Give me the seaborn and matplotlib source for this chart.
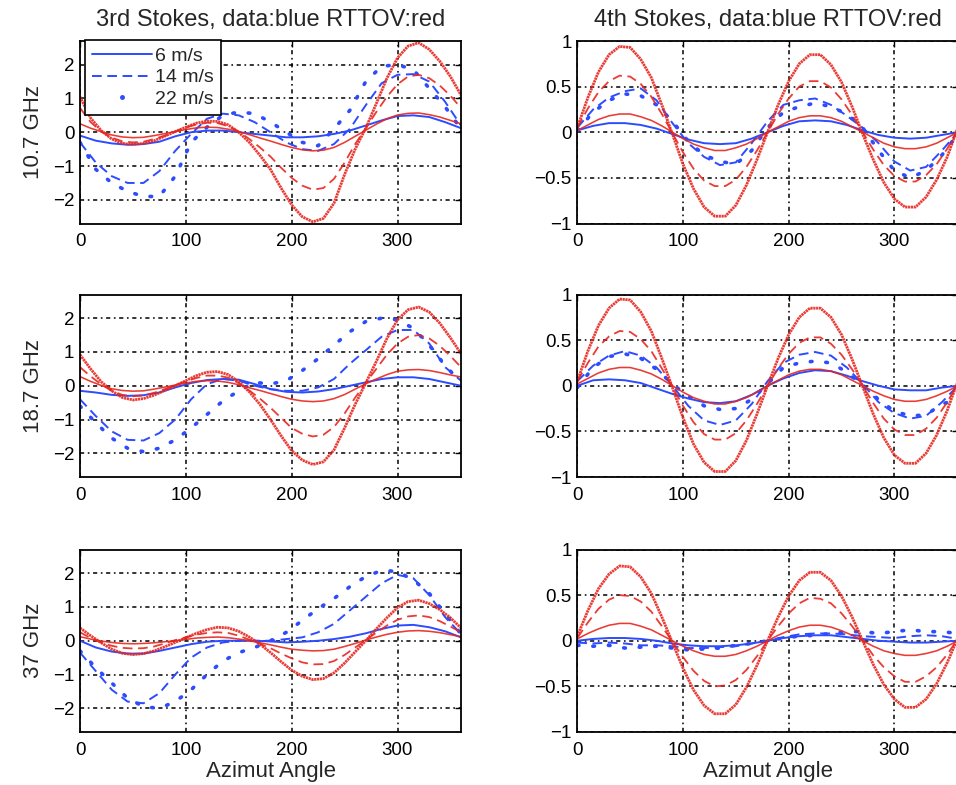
import matplotlib
matplotlib.use("Agg")
import matplotlib.pyplot as plt
import seaborn as sns
from matplotlib.lines import Line2D
from matplotlib.ticker import FuncFormatter

# ---------------- data ----------------
# measured data (blue) read every 15 degrees
angle = [0, 15, 30, 45, 60, 75, 90, 105, 120, 135, 150, 165, 180,
         195, 210, 225, 240, 255, 270, 285, 300, 315, 330, 345, 360]
# RTTOV model curves (red) read every 10 degrees
angle_model = [0, 10, 20, 30, 40, 50, 60, 70, 80, 90, 100, 110, 120, 130, 140, 150, 160, 170, 180,
               190, 200, 210, 220, 230, 240, 250, 260, 270, 280, 290, 300, 310, 320, 330, 340, 350, 360]

# 3rd Stokes, 10.7 GHz
s3_10_blue6 = [-0.1, -0.25, -0.33, -0.37, -0.35, -0.28, -0.12, 0.0, 0.05, 0.05, 0.0, -0.05, -0.1,
               -0.15, -0.15, -0.12, -0.05, 0.05, 0.2, 0.35, 0.48, 0.5, 0.45, 0.3, 0.12]
s3_10_blue14 = [-0.3, -0.9, -1.3, -1.5, -1.5, -1.15, -0.55, -0.05, 0.4, 0.55, 0.5, 0.3, 0.0,
                -0.3, -0.5, -0.55, -0.35, 0.1, 0.8, 1.45, 1.7, 1.72, 1.5, 0.9, 0.2]
s3_10_blue22 = [-0.3, -1.1, -1.5, -1.75, -1.9, -1.9, -1.3, -0.3, 0.15, 0.5, 0.6, 0.55, 0.3,
                0.0, -0.3, -0.4, 0.1, 0.65, 1.5, 1.95, 2.0, 1.85, 1.3, 0.75, 0.1]
s3_10_red6 = [0.25, 0.12, 0.02, -0.08, -0.14, -0.16, -0.15, -0.1, -0.04, 0.02, 0.08, 0.13, 0.15, 0.14,
              0.09, 0.02, -0.07, -0.17, -0.26, -0.36, -0.45, -0.52, -0.55, -0.53, -0.45, -0.3, -0.12,
              0.06, 0.24, 0.4, 0.51, 0.56, 0.57, 0.52, 0.45, 0.35, 0.25]
s3_10_red14 = [0.72, 0.3, 0.02, -0.16, -0.27, -0.3, -0.28, -0.2, -0.1, 0.02, 0.14, 0.23, 0.28, 0.27,
               0.18, 0.02, -0.2, -0.45, -0.72, -1.05, -1.35, -1.58, -1.7, -1.65, -1.38, -0.9, -0.35,
               0.12, 0.6, 1.05, 1.42, 1.65, 1.7, 1.6, 1.38, 1.08, 0.72]
s3_10_red22 = [1.05, 0.42, 0.05, -0.2, -0.33, -0.36, -0.33, -0.25, -0.12, 0.02, 0.15, 0.27, 0.33, 0.32,
               0.22, 0.0, -0.3, -0.68, -1.1, -1.65, -2.15, -2.5, -2.65, -2.55, -2.1, -1.25, -0.5,
               0.12, 0.85, 1.6, 2.2, 2.55, 2.65, 2.45, 2.1, 1.65, 1.1]

# 3rd Stokes, 18.7 GHz
s3_18_blue6 = [-0.15, -0.2, -0.27, -0.3, -0.28, -0.2, -0.05, 0.08, 0.17, 0.2, 0.18, 0.05, -0.1,
               -0.18, -0.2, -0.17, -0.1, 0.0, 0.1, 0.2, 0.25, 0.25, 0.2, 0.1, 0.0]
s3_18_blue14 = [-0.4, -0.9, -1.35, -1.6, -1.62, -1.4, -1.0, -0.4, 0.05, 0.2, 0.15, 0.0, -0.1,
                -0.15, -0.15, -0.05, 0.2, 0.65, 1.05, 1.45, 1.65, 1.65, 1.25, 0.55, 0.15]
s3_18_blue22 = [-0.6, -1.1, -1.55, -1.85, -1.95, -1.85, -1.6, -1.25, -0.85, -0.45, -0.15, 0.1, 0.05,
                0.15, 0.45, 0.8, 1.2, 1.6, 1.9, 2.0, 1.95, 1.7, 1.2, 0.6, 0.1]
s3_18_red6 = [0.27, 0.13, 0.01, -0.09, -0.14, -0.16, -0.15, -0.1, -0.04, 0.02, 0.08, 0.13, 0.15, 0.14,
              0.1, 0.03, -0.06, -0.14, -0.23, -0.32, -0.4, -0.45, -0.47, -0.45, -0.38, -0.26, -0.1,
              0.06, 0.2, 0.33, 0.43, 0.47, 0.48, 0.45, 0.39, 0.32, 0.26]
s3_18_red14 = [0.55, 0.28, 0.04, -0.15, -0.27, -0.31, -0.29, -0.21, -0.1, 0.02, 0.13, 0.23, 0.3, 0.3,
               0.24, 0.08, -0.14, -0.38, -0.65, -0.95, -1.25, -1.42, -1.5, -1.45, -1.22, -0.82, -0.35,
               0.08, 0.5, 0.92, 1.25, 1.45, 1.5, 1.4, 1.18, 0.88, 0.55]
s3_18_red22 = [0.92, 0.5, 0.12, -0.15, -0.35, -0.42, -0.38, -0.28, -0.14, 0.0, 0.15, 0.3, 0.4, 0.42,
               0.33, 0.12, -0.18, -0.55, -1.0, -1.48, -1.92, -2.2, -2.33, -2.25, -1.9, -1.25, -0.55,
               0.08, 0.72, 1.4, 1.95, 2.25, 2.33, 2.18, 1.85, 1.42, 0.95]

# 3rd Stokes, 37 GHz
s3_37_blue6 = [0.0, -0.2, -0.32, -0.38, -0.38, -0.3, -0.2, -0.1, -0.03, 0.0, 0.0, 0.0, -0.02,
               -0.05, -0.03, 0.0, 0.05, 0.12, 0.22, 0.35, 0.45, 0.47, 0.4, 0.28, 0.1]
s3_37_blue14 = [-0.35, -0.9, -1.45, -1.8, -1.85, -1.55, -1.0, -0.5, -0.2, -0.05, 0.0, 0.0, 0.0,
                0.05, 0.1, 0.25, 0.5, 0.9, 1.3, 1.7, 1.95, 1.85, 1.35, 0.7, 0.2]
s3_37_blue22 = [-0.3, -0.8, -1.25, -1.7, -1.95, -2.0, -1.8, -1.45, -1.0, -0.6, -0.35, -0.2, 0.0,
                0.25, 0.6, 0.95, 1.25, 1.6, 1.9, 2.08, 2.05, 1.8, 1.4, 0.8, 0.2]
s3_37_red6 = [0.12, 0.05, -0.01, -0.05, -0.08, -0.09, -0.08, -0.06, -0.03, 0.0, 0.04, 0.08, 0.1, 0.11,
              0.09, 0.05, 0.0, -0.06, -0.12, -0.19, -0.25, -0.28, -0.3, -0.29, -0.25, -0.17, -0.08,
              0.02, 0.11, 0.19, 0.25, 0.29, 0.3, 0.28, 0.24, 0.18, 0.12]
s3_37_red14 = [0.25, 0.08, -0.05, -0.15, -0.21, -0.23, -0.22, -0.17, -0.08, 0.02, 0.1, 0.18, 0.23, 0.25,
               0.23, 0.15, 0.03, -0.09, -0.22, -0.38, -0.52, -0.64, -0.7, -0.69, -0.6, -0.42, -0.2,
               0.02, 0.24, 0.45, 0.62, 0.72, 0.75, 0.7, 0.58, 0.42, 0.25]
s3_37_red22 = [0.38, 0.15, -0.06, -0.25, -0.37, -0.41, -0.38, -0.3, -0.18, -0.05, 0.09, 0.22, 0.33, 0.4,
               0.38, 0.28, 0.11, -0.1, -0.35, -0.62, -0.87, -1.05, -1.15, -1.12, -0.95, -0.66, -0.33,
               0.0, 0.35, 0.68, 0.98, 1.16, 1.2, 1.1, 0.92, 0.68, 0.38]

# 4th Stokes, 10.7 GHz
s4_10_blue6 = [0.02, 0.07, 0.1, 0.1, 0.08, 0.04, -0.02, -0.08, -0.12, -0.13, -0.12, -0.07, 0.0,
               0.07, 0.12, 0.13, 0.12, 0.08, 0.02, -0.03, -0.06, -0.07, -0.06, -0.03, 0.0]
s4_10_blue14 = [0.05, 0.25, 0.38, 0.45, 0.48, 0.35, 0.1, -0.12, -0.27, -0.36, -0.33, -0.12, 0.12,
                0.3, 0.35, 0.37, 0.3, 0.18, 0.05, -0.12, -0.32, -0.42, -0.38, -0.2, 0.0]
s4_10_blue22 = [0.02, 0.22, 0.35, 0.42, 0.4, 0.3, 0.12, -0.1, -0.25, -0.32, -0.35, -0.2, 0.05,
                0.22, 0.28, 0.32, 0.28, 0.2, 0.05, -0.2, -0.42, -0.5, -0.42, -0.25, -0.02]
s4_10_red6 = [0.02, 0.08, 0.14, 0.18, 0.2, 0.2, 0.17, 0.13, 0.07, 0.0, -0.07, -0.13, -0.17, -0.2,
              -0.2, -0.17, -0.13, -0.07, 0.0, 0.06, 0.12, 0.16, 0.18, 0.18, 0.16, 0.12, 0.06,
              0.0, -0.06, -0.12, -0.16, -0.18, -0.18, -0.16, -0.12, -0.06, 0.0]
s4_10_red14 = [0.05, 0.26, 0.44, 0.56, 0.62, 0.61, 0.53, 0.39, 0.2, -0.01, -0.22, -0.4, -0.53, -0.59,
               -0.59, -0.52, -0.38, -0.2, 0.0, 0.2, 0.37, 0.5, 0.56, 0.56, 0.49, 0.36, 0.19,
               0.0, -0.19, -0.36, -0.48, -0.54, -0.54, -0.47, -0.35, -0.18, 0.02]
s4_10_red22 = [0.05, 0.38, 0.66, 0.85, 0.94, 0.93, 0.8, 0.6, 0.3, -0.02, -0.35, -0.62, -0.82, -0.92,
               -0.92, -0.8, -0.58, -0.3, 0.0, 0.3, 0.56, 0.75, 0.85, 0.85, 0.74, 0.55, 0.28,
               -0.02, -0.3, -0.55, -0.73, -0.82, -0.82, -0.71, -0.52, -0.27, 0.05]

# 4th Stokes, 18.7 GHz
s4_18_blue6 = [0.0, 0.06, 0.07, 0.06, 0.03, -0.03, -0.09, -0.14, -0.18, -0.19, -0.17, -0.1, 0.0,
               0.08, 0.14, 0.17, 0.16, 0.11, 0.05, 0.0, -0.04, -0.05, -0.05, -0.02, 0.0]
s4_18_blue14 = [0.05, 0.22, 0.33, 0.38, 0.33, 0.2, 0.0, -0.22, -0.38, -0.43, -0.38, -0.2, 0.05,
                0.25, 0.34, 0.37, 0.33, 0.2, 0.02, -0.18, -0.3, -0.36, -0.33, -0.18, 0.0]
s4_18_blue22 = [-0.02, 0.2, 0.32, 0.35, 0.3, 0.18, 0.02, -0.12, -0.22, -0.26, -0.25, -0.15, 0.02,
                0.2, 0.25, 0.27, 0.25, 0.15, 0.0, -0.15, -0.28, -0.33, -0.32, -0.2, -0.15]
s4_18_red6 = [0.02, 0.08, 0.14, 0.18, 0.2, 0.2, 0.17, 0.13, 0.07, 0.0, -0.07, -0.13, -0.17, -0.2,
              -0.2, -0.17, -0.13, -0.07, 0.0, 0.06, 0.12, 0.16, 0.18, 0.18, 0.16, 0.12, 0.06,
              0.0, -0.06, -0.11, -0.15, -0.17, -0.17, -0.15, -0.11, -0.06, 0.0]
s4_18_red14 = [0.05, 0.25, 0.43, 0.54, 0.6, 0.59, 0.51, 0.38, 0.19, -0.01, -0.22, -0.4, -0.53, -0.59,
               -0.59, -0.52, -0.38, -0.2, 0.0, 0.19, 0.35, 0.47, 0.53, 0.53, 0.46, 0.34, 0.18,
               0.0, -0.19, -0.36, -0.48, -0.54, -0.54, -0.47, -0.35, -0.18, 0.02]
s4_18_red22 = [0.05, 0.38, 0.66, 0.85, 0.95, 0.94, 0.81, 0.6, 0.3, -0.02, -0.35, -0.64, -0.84, -0.94,
               -0.94, -0.82, -0.6, -0.31, 0.0, 0.3, 0.56, 0.75, 0.85, 0.85, 0.75, 0.56, 0.29,
               -0.01, -0.31, -0.57, -0.76, -0.85, -0.85, -0.74, -0.54, -0.27, 0.05]

# 4th Stokes, 37 GHz
s4_37_blue6 = [0.0, 0.02, 0.03, 0.03, 0.02, 0.0, -0.03, -0.05, -0.06, -0.06, -0.05, -0.03, 0.0,
               0.03, 0.05, 0.06, 0.06, 0.04, 0.02, 0.0, -0.01, -0.02, -0.02, -0.01, 0.0]
s4_37_blue14 = [-0.02, -0.03, -0.02, -0.03, -0.05, -0.05, -0.06, -0.08, -0.08, -0.07, -0.06, -0.03, 0.0,
                0.04, 0.07, 0.08, 0.08, 0.07, 0.05, 0.04, 0.03, 0.05, 0.06, 0.05, 0.02]
s4_37_blue22 = [-0.05, -0.06, -0.05, -0.08, -0.07, -0.06, -0.08, -0.1, -0.09, -0.08, -0.05, -0.03, 0.0,
                0.03, 0.05, 0.06, 0.08, 0.1, 0.1, 0.08, 0.1, 0.12, 0.1, 0.1, 0.08]
s4_37_red6 = [0.02, 0.08, 0.13, 0.17, 0.19, 0.19, 0.16, 0.12, 0.06, 0.0, -0.06, -0.11, -0.15, -0.17,
              -0.17, -0.15, -0.11, -0.06, 0.0, 0.06, 0.11, 0.15, 0.17, 0.17, 0.15, 0.11, 0.06,
              0.0, -0.06, -0.11, -0.14, -0.16, -0.16, -0.14, -0.11, -0.06, 0.0]
s4_37_red14 = [0.03, 0.2, 0.35, 0.45, 0.5, 0.49, 0.43, 0.32, 0.16, -0.01, -0.18, -0.33, -0.44, -0.5,
               -0.49, -0.43, -0.32, -0.17, 0.0, 0.16, 0.3, 0.41, 0.47, 0.46, 0.41, 0.3, 0.16,
               0.0, -0.16, -0.29, -0.39, -0.45, -0.45, -0.39, -0.29, -0.15, 0.02]
s4_37_red22 = [0.05, 0.33, 0.57, 0.73, 0.82, 0.81, 0.7, 0.52, 0.26, -0.02, -0.3, -0.54, -0.71, -0.8,
               -0.8, -0.7, -0.51, -0.27, 0.0, 0.26, 0.49, 0.66, 0.75, 0.75, 0.66, 0.49, 0.26,
               0.0, -0.26, -0.48, -0.64, -0.73, -0.73, -0.64, -0.47, -0.24, 0.03]

freq_labels = ["10.7 GHz", "18.7 GHz", "37 GHz"]
col_titles = ["3rd Stokes, data:blue RTTOV:red", "4th Stokes, data:blue RTTOV:red"]
speed_labels = ["6 m/s", "14 m/s", "22 m/s"]
x_ticks = [0, 100, 200, 300]
y_ticks_s3 = [-2, -1, 0, 1, 2]
y_ticks_s4 = [-1, -0.5, 0, 0.5, 1]

panels = [
    [([s3_10_blue6, s3_10_blue14, s3_10_blue22], [s3_10_red6, s3_10_red14, s3_10_red22]),
     ([s4_10_blue6, s4_10_blue14, s4_10_blue22], [s4_10_red6, s4_10_red14, s4_10_red22])],
    [([s3_18_blue6, s3_18_blue14, s3_18_blue22], [s3_18_red6, s3_18_red14, s3_18_red22]),
     ([s4_18_blue6, s4_18_blue14, s4_18_blue22], [s4_18_red6, s4_18_red14, s4_18_red22])],
    [([s3_37_blue6, s3_37_blue14, s3_37_blue22], [s3_37_red6, s3_37_red14, s3_37_red22]),
     ([s4_37_blue6, s4_37_blue14, s4_37_blue22], [s4_37_red6, s4_37_red14, s4_37_red22])],
]

# ---------------- style ----------------
sns.set_theme(style="white")
plt.rcParams['font.family'] = ['Liberation Sans', 'DejaVu Sans']
plt.rcParams['lines.scale_dashes'] = False
plt.rcParams['axes.unicode_minus'] = True

BLUE = "#2d4bff"
RED = "#e8261f"
blue_styles = [dict(linestyle='-', lw=1.4),
               dict(linestyle=(0, (7, 4)), lw=1.4),
               dict(linestyle=(0, (1.2, 10)), lw=2.6, dash_capstyle='round')]
red_styles = [dict(linestyle='-', lw=1.15),
              dict(linestyle=(0, (7, 4)), lw=1.3),
              dict(linestyle=(0, (1.6, 0.45)), lw=2.0)]

W, H = 956, 785
fig = plt.figure(figsize=(W / 100, H / 100), dpi=100)

col_left = [80 / W, 577.3 / W]
col_width = [381 / W, 380.5 / W]
row_bottom = [1 - 223.5 / H, 1 - 477 / H, 1 - 732 / H]
row_height = 182.5 / H

fmt = FuncFormatter(lambda v, p: ('%g' % v).replace('-', '\u2212'))

for r in range(3):
    for c in range(2):
        ax = fig.add_axes([col_left[c], row_bottom[r], col_width[c], row_height])
        blues, reds = panels[r][c]
        for vals, st in zip(blues, blue_styles):
            sns.lineplot(x=angle, y=vals, ax=ax, color=BLUE, sort=False, estimator=None, **st)
        for vals, st in zip(reds, red_styles):
            sns.lineplot(x=angle_model, y=vals, ax=ax, color=RED, sort=False, estimator=None,
                         alpha=0.9, **st)
        ax.set_xlim(0, 360)
        ax.set_xticks(x_ticks)
        if c == 0:
            ax.set_ylim(-2.7, 2.7)
            ax.set_yticks(y_ticks_s3)
            ax.set_ylabel(freq_labels[r], fontsize=16)
            ax.yaxis.set_label_coords(-0.095, 0.5)
        else:
            ax.set_ylim(-1, 1)
            ax.set_yticks(y_ticks_s4)
        ax.yaxis.set_major_formatter(fmt)
        ax.grid(True, color='black', linestyle=(0, (3, 2.6, 1.2, 2.6)), linewidth=1.1)
        ax.set_axisbelow(True)
        ax.tick_params(axis='both', direction='in', length=4, width=1, top=True, right=True,
                       labelsize=13.5, colors='black')
        ax.tick_params(axis='x', pad=7)
        ax.tick_params(axis='y', pad=4)
        for sp in ax.spines.values():
            sp.set_color('black')
            sp.set_linewidth(1.3)
        if r == 0:
            ax.set_title(col_titles[c], fontsize=17, pad=11)
        if r == 2:
            ax.set_xlabel("Azimut Angle", fontsize=16, labelpad=2)
        else:
            ax.set_xlabel("")
        if r == 0 and c == 0:
            handles = [Line2D([], [], color=BLUE, **blue_styles[0]),
                       Line2D([], [], color=BLUE, **blue_styles[1]),
                       Line2D([], [], color=BLUE, linestyle='none', marker='o', markersize=2.5)]
            leg = ax.legend(handles, speed_labels, loc='upper left', bbox_to_anchor=(0.013, 1.005),
                            borderaxespad=0, fontsize=14, handlelength=3.1, handletextpad=0.15,
                            labelspacing=0.22, borderpad=0.35, frameon=True, fancybox=False,
                            framealpha=1, edgecolor='black')
            leg.get_frame().set_linewidth(1.2)
        else:
            if ax.get_legend() is not None:
                ax.get_legend().remove()

fig.savefig("out.png", dpi=100)
